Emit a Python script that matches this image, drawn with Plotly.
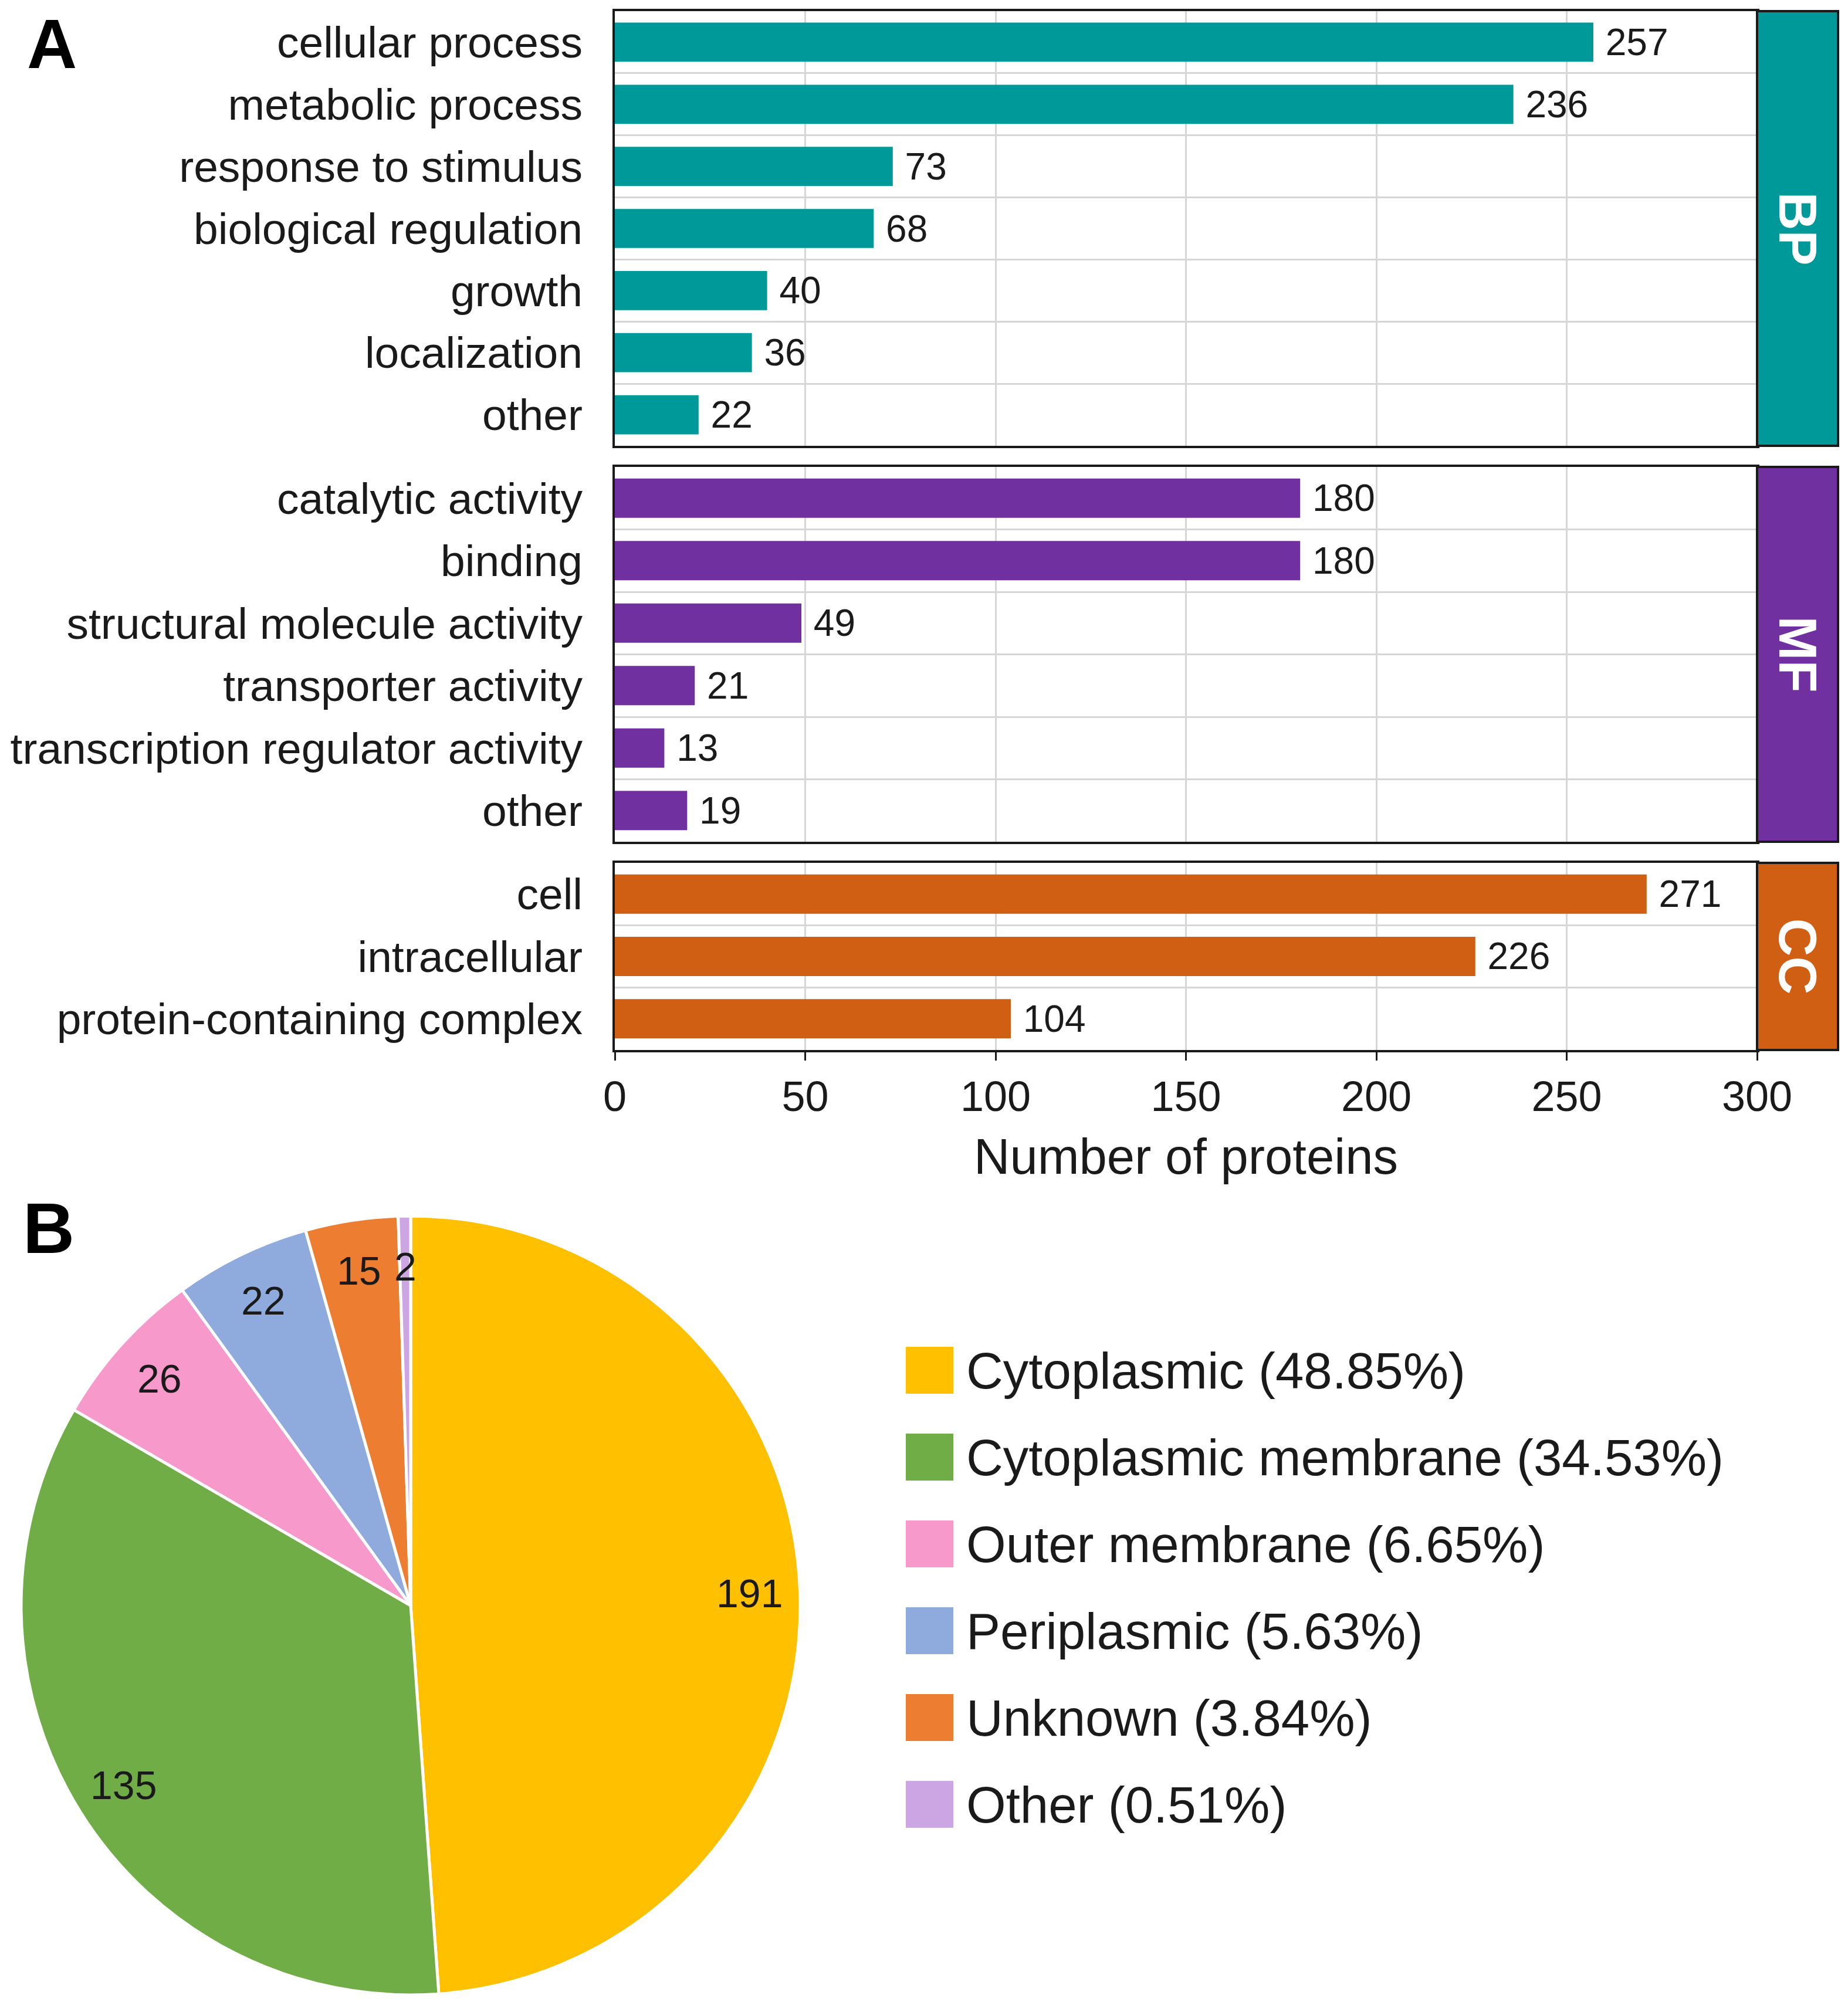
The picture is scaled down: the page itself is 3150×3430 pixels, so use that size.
import math
import plotly.graph_objects as go

# ---------------- data ----------------
bp_terms = ["cellular process", "metabolic process", "response to stimulus",
            "biological regulation", "growth", "localization", "other"]
bp_counts = [257, 236, 73, 68, 40, 36, 22]
mf_terms = ["catalytic activity", "binding", "structural molecule activity",
            "transporter activity", "transcription regulator activity", "other"]
mf_counts = [180, 180, 49, 21, 13, 19]
cc_terms = ["cell", "intracellular", "protein-containing complex"]
cc_counts = [271, 226, 104]
group_names = ["BP", "MF", "CC"]
group_colors = ["#00999A", "#7030A0", "#D05F13"]
x_ticks = [0, 50, 100, 150, 200, 250, 300]
x_title = "Number of proteins"

loc_labels = ["Cytoplasmic", "Cytoplasmic membrane", "Outer membrane",
              "Periplasmic", "Unknown", "Other"]
loc_counts = [191, 135, 26, 22, 15, 2]
loc_colors = ["#FFC000", "#70AD47", "#F899CB", "#8FAADC", "#ED7D31", "#CBA6E3"]

# ---------------- layout constants (pixels) ----------------
W, H = 3150, 3430
OFF = 8  # page body margin offset
FONT = "Liberation Sans, Arial, sans-serif"
INK = "#1a1a1a"
GRID = "#D6D6D6"
FRAME = "#1a1a1a"
plot_x0, plot_x1 = 1048, 2995
strip_x1 = 3133
panel_y = [(19, 760), (796, 1435), (1471, 1790)]


def fx(p):
    return (p - OFF) / W


def fy(p):
    return 1 - (p - OFF) / H


fig = go.Figure()
groups = [(bp_terms, bp_counts), (mf_terms, mf_counts), (cc_terms, cc_counts)]
shapes = []
annotations = []

for i, ((terms, counts), name, color, (ytop, ybot)) in enumerate(
        zip(groups, group_names, group_colors, panel_y)):
    k = "" if i == 0 else str(i + 1)
    fig.add_trace(go.Bar(
        x=counts, y=terms, orientation="h",
        marker=dict(color=color, line=dict(width=0)),
        width=0.63,
        text=["\u00a0" + str(c) for c in counts],
        textposition="outside", constraintext="none", cliponaxis=False,
        textfont=dict(family=FONT, size=64, color=INK),
        xaxis="x" + k, yaxis="y" + k, showlegend=False,
        hoverinfo="x+y",
    ))
    last = (i == len(groups) - 1)
    fig.update_layout(**{
        "xaxis" + k: dict(
            domain=[fx(plot_x0), fx(plot_x1)], anchor="y" + k,
            range=[0, 300], tickmode="array", tickvals=x_ticks,
            showticklabels=last, ticks="outside" if last else "",
            ticklen=14, tickwidth=3, tickcolor=FRAME,
            tickfont=dict(family=FONT, size=72, color=INK),
            showgrid=True, gridcolor=GRID, gridwidth=3, zeroline=False,
            showline=True, mirror=True, linecolor=FRAME, linewidth=4,
            title=dict(text=x_title if last else "",
                       font=dict(family=FONT, size=85, color=INK), standoff=34),
            automargin=False, fixedrange=True,
        ),
        "yaxis" + k: dict(
            domain=[fy(ybot), fy(ytop)], anchor="x" + k,
            type="category", categoryorder="array", categoryarray=terms,
            autorange="reversed", tickson="boundaries", ticks="",
            showgrid=True, gridcolor=GRID, gridwidth=3,
            tickfont=dict(family=FONT, size=75, color=INK),
            ticklabelstandoff=36,
            showline=True, mirror=True, linecolor=FRAME, linewidth=4,
            automargin=False, fixedrange=True,
        ),
    })
    # facet strip
    shapes.append(dict(type="rect", xref="paper", yref="paper",
                       x0=fx(plot_x1), x1=fx(strip_x1), y0=fy(ybot), y1=fy(ytop),
                       fillcolor=color, line=dict(color=FRAME, width=4), layer="above"))
    annotations.append(dict(text="<b>" + name + "</b>", xref="paper", yref="paper",
                            x=fx((plot_x1 + strip_x1) / 2), y=fy((ytop + ybot) / 2),
                            xanchor="center", yanchor="middle", textangle=90,
                            showarrow=False,
                            font=dict(family=FONT, size=90, color="white")))

# ---------------- pie (B) ----------------
pie_cx, pie_cy, pie_r = 700, 2737, 664
fig.add_trace(go.Pie(
    labels=loc_labels, values=loc_counts, sort=False, direction="clockwise",
    rotation=0, textinfo="none", showlegend=False, automargin=False,
    marker=dict(colors=loc_colors, line=dict(color="white", width=5)),
    domain=dict(x=[fx(pie_cx - pie_r), fx(pie_cx + pie_r)],
                y=[fy(pie_cy + pie_r), fy(pie_cy - pie_r)]),
))

total = sum(loc_counts)
cum = 0
for lab, cnt in zip(loc_labels, loc_counts):
    mid = (cum + cnt / 2) / total * 2 * math.pi
    cum += cnt
    rr = 0.87 * pie_r
    px_ = pie_cx + rr * math.sin(mid)
    py_ = pie_cy - rr * math.cos(mid)
    annotations.append(dict(text=str(cnt), xref="paper", yref="paper",
                            x=fx(px_), y=fy(py_), xanchor="center", yanchor="middle",
                            showarrow=False,
                            font=dict(family=FONT, size=68, color=INK)))

# custom legend
leg_x0, leg_x1, leg_text_x = 1544, 1625, 1645
leg_y0, leg_step, leg_half = 2336, 148, 40
for j, (lab, cnt, col) in enumerate(zip(loc_labels, loc_counts, loc_colors)):
    yc = leg_y0 + j * leg_step
    shapes.append(dict(type="rect", xref="paper", yref="paper",
                       x0=fx(leg_x0), x1=fx(leg_x1),
                       y0=fy(yc + leg_half), y1=fy(yc - leg_half),
                       fillcolor=col, line=dict(width=0)))
    pct = cnt / total * 100
    annotations.append(dict(text=f"{lab} ({pct:.2f}%)", xref="paper", yref="paper",
                            x=fx(leg_text_x), y=fy(yc), xanchor="left",
                            yanchor="middle", showarrow=False,
                            font=dict(family=FONT, size=87, color=INK)))

# panel letters
annotations.append(dict(text="<b>A</b>", xref="paper", yref="paper",
                        x=fx(88), y=1.0, xanchor="center", yanchor="top",
                        borderpad=0,
                        showarrow=False, font=dict(family=FONT, size=118, color="black")))
annotations.append(dict(text="<b>B</b>", xref="paper", yref="paper",
                        x=fx(83), y=fy(2094), xanchor="center", yanchor="middle",
                        showarrow=False, font=dict(family=FONT, size=122, color="black")))

fig.update_layout(
    width=W, height=H,
    margin=dict(l=0, r=0, t=0, b=0, autoexpand=False),
    paper_bgcolor="white", plot_bgcolor="white",
    bargap=0.37,
    shapes=shapes, annotations=annotations,
    font=dict(family=FONT, color=INK),
)

fig.write_html("out.html")
